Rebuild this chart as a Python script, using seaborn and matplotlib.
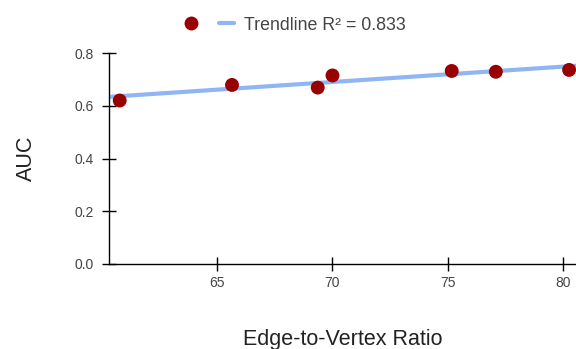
import numpy as np
import pandas as pd
import seaborn as sns
import matplotlib.pyplot as plt
from matplotlib.lines import Line2D

# values
edge_vertex_ratio = [60.80, 65.66, 69.37, 70.01, 75.17, 77.08, 80.25]
auc = [0.620, 0.679, 0.669, 0.715, 0.732, 0.729, 0.736]
r2_label = "0.833"
y_ticks = [0.0, 0.2, 0.4, 0.6, 0.8]
x_ticks = [65, 70, 75, 80]

sns.set_style("white")
plt.rcParams['font.family'] = ['Liberation Sans', 'DejaVu Sans']

df = pd.DataFrame({"ratio": edge_vertex_ratio, "auc": auc})

fig = plt.figure(figsize=(5.76, 3.49), dpi=100)
ax = fig.add_axes([0.189, 0.2436, 0.811, 0.6044])

xlim = (60.33, 80.55)
slope, intercept = np.polyfit(df["ratio"], df["auc"], 1)
trend = pd.DataFrame({"ratio": list(xlim)})
trend["auc"] = slope * trend["ratio"] + intercept

sns.lineplot(data=trend, x="ratio", y="auc", ax=ax, color="#8fb5f2", linewidth=3, zorder=2)
sns.scatterplot(data=df, x="ratio", y="auc", ax=ax, color="#990000", s=100,
                edgecolor="none", zorder=3, clip_on=False)

ax.set_xlim(*xlim)
ax.set_ylim(0, 0.8)
ax.set_xticks(x_ticks)
ax.set_yticks(y_ticks)
ax.set_yticklabels([f"{v:.1f}" for v in y_ticks])

for side in ["top", "right"]:
    ax.spines[side].set_visible(False)
for side in ["left", "bottom"]:
    ax.spines[side].set_color("black")
    ax.spines[side].set_linewidth(1)

ax.tick_params(axis="both", which="major", bottom=True, left=True, direction="inout",
               length=9.5, width=1, color="black", labelsize=10, labelcolor="#444444")
ax.tick_params(axis="y", pad=6)
ax.tick_params(axis="x", pad=4)

ax.set_xlabel("Edge-to-Vertex Ratio", fontsize=15.5, color="#222222", labelpad=28)
ax.set_ylabel("AUC", fontsize=15.5, color="#222222", labelpad=27)

handles = [
    Line2D([], [], marker="o", linestyle="none", markersize=10,
           markerfacecolor="#990000", markeredgecolor="none"),
    Line2D([], [], color="#8fb5f2", linewidth=3),
]
fig.legend(handles, ["", f"Trendline R\u00b2 = {r2_label}"], ncol=2, frameon=False,
           loc="center", bbox_to_anchor=(295 / 576, 1 - 25 / 349),
           fontsize=12.75, labelcolor="#444444", handlelength=0.8,
           handletextpad=0.6, columnspacing=0.6)

fig.savefig("out.png", dpi=100)
